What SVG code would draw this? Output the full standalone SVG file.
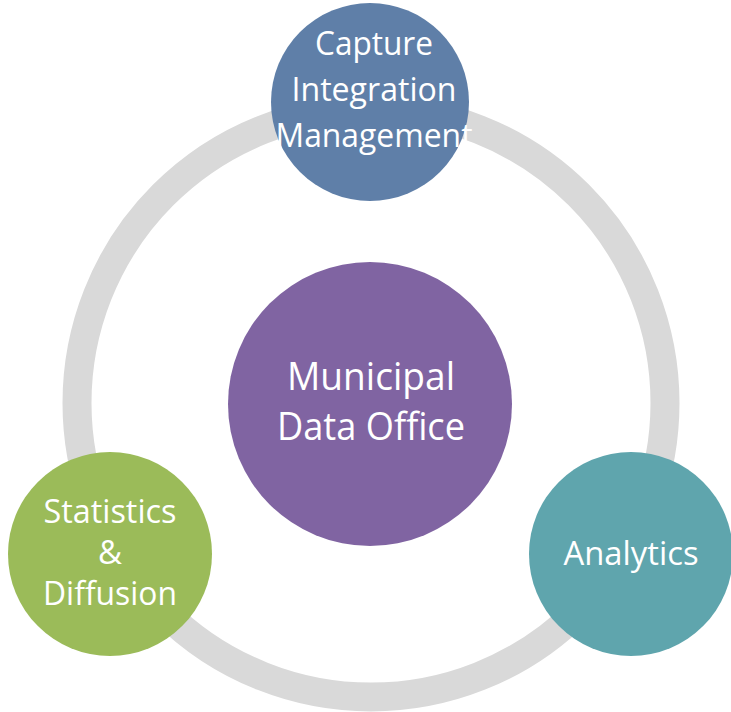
<svg xmlns="http://www.w3.org/2000/svg" width="731" height="712" viewBox="0 0 731 712">
<style>
.lbl{font-family:"Open Sans","Liberation Sans",sans-serif;fill:#ffffff;text-anchor:middle}
.big{font-size:38px}
.sm{font-size:33px}
</style>
<rect width="731" height="712" fill="#ffffff"/>
<g id="connectors">
<circle cx="371" cy="403" r="294" fill="none" stroke="#d9d9d9" stroke-width="29"/>
</g>
<g id="center">
<circle cx="370" cy="404" r="142" fill="#8064a2"/>
<text class="lbl big" x="371" y="390" textLength="168" lengthAdjust="spacingAndGlyphs">Municipal</text>
<text class="lbl big" x="371" y="440" textLength="188" lengthAdjust="spacingAndGlyphs">Data Office</text>
</g>
<g id="capture">
<circle cx="370" cy="102" r="99" fill="#5f7fa8"/>
<text class="lbl sm" x="374" y="55" textLength="118" lengthAdjust="spacingAndGlyphs">Capture</text>
<text class="lbl sm" x="374" y="101" textLength="165" lengthAdjust="spacingAndGlyphs">Integration</text>
<text class="lbl sm" x="374" y="147" textLength="197" lengthAdjust="spacingAndGlyphs">Management</text>
</g>
<g id="statistics">
<circle cx="110" cy="554" r="102" fill="#9bbb59"/>
<text class="lbl sm" x="110" y="523" textLength="133" lengthAdjust="spacingAndGlyphs">Statistics</text>
<text class="lbl sm" x="110" y="564" textLength="24" lengthAdjust="spacingAndGlyphs">&amp;</text>
<text class="lbl sm" x="110" y="605" textLength="134" lengthAdjust="spacingAndGlyphs">Diffusion</text>
</g>
<g id="analytics">
<circle cx="631" cy="554" r="102" fill="#5fa5ad"/>
<text class="lbl sm" x="631" y="565" textLength="135" lengthAdjust="spacingAndGlyphs">Analytics</text>
</g>
</svg>
